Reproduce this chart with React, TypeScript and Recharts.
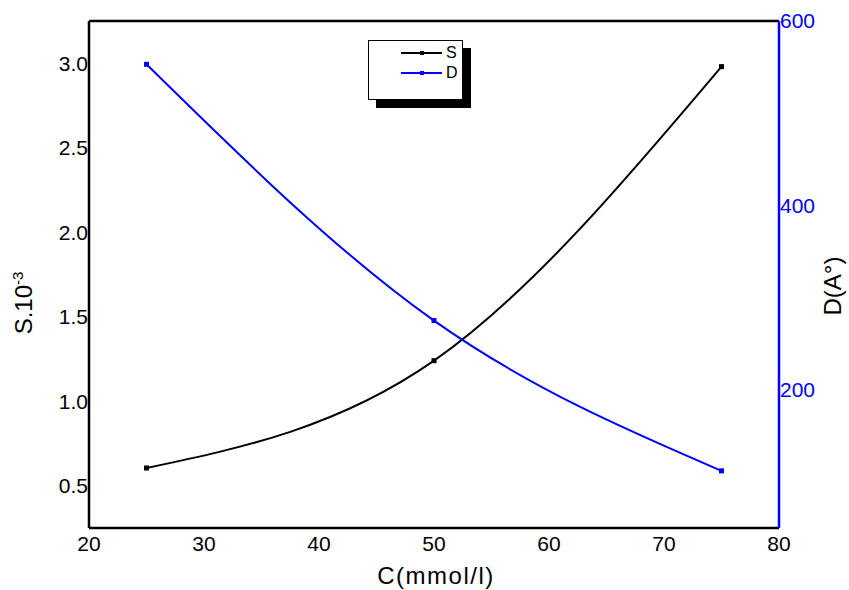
import React from 'react';
import { LineChart, Line, XAxis, YAxis } from 'recharts';

const concentrations = [25, 50, 75];
const sValues = [0.605, 1.24, 2.98];
const dValues = [553, 275, 112];
const xTicks = [20, 30, 40, 50, 60, 70, 80];
const sTicks = [0.5, 1.0, 1.5, 2.0, 2.5, 3.0];
const dTicks = [200, 400, 600];
const legendItems = [
  { name: 'S', color: '#000000' },
  { name: 'D', color: '#0000ff' },
];

const data = concentrations.map((c, i) => ({ c, s: sValues[i], d: dValues[i] }));

const FONT = 'Arial, "Liberation Sans", sans-serif';

const SquareDot = (color: string) => (props: any) => {
  const { cx, cy } = props;
  if (cx == null || cy == null) return null;
  return <rect x={cx - 2.5} y={cy - 2.5} width={5} height={5} fill={color} />;
};

const LegendBox = () => (
  <div
    style={{
      position: 'absolute',
      left: 368,
      top: 40,
      width: 95,
      height: 60,
      border: '1.5px solid #000',
      background: '#fff',
      boxShadow: '8px 8px 0 #000',
      boxSizing: 'border-box',
      fontFamily: FONT,
      fontSize: 16,
    }}
  >
    {legendItems.map((e, i) => (
      <div key={e.name} style={{ position: 'absolute', left: 0, top: 3 + i * 20, height: 18, width: 95 }}>
        <div style={{ position: 'absolute', left: 32, top: 8, width: 41, height: 2, background: e.color }} />
        <div style={{ position: 'absolute', left: 51, top: 7, width: 4, height: 4, background: e.color }} />
        <span style={{ position: 'absolute', left: 77, top: 0, lineHeight: '18px', color: '#000' }}>{e.name}</span>
      </div>
    ))}
  </div>
);

const LeftTitle = () => {
  const x = 32;
  const y = 303;
  return (
    <text
      x={x}
      y={y}
      transform={`rotate(-90 ${x} ${y})`}
      textAnchor="middle"
      fontFamily={FONT}
      fontSize={24}
      fill="#000"
    >
      <tspan>S.10</tspan>
      <tspan dy={-9} fontSize={15}>-3</tspan>
    </text>
  );
};

const RightTitle = () => {
  const x = 841;
  const y = 286;
  return (
    <text
      x={x}
      y={y}
      transform={`rotate(-90 ${x} ${y})`}
      textAnchor="middle"
      fontFamily={FONT}
      fontSize={24}
      fill="#000"
    >
      D(A°)
    </text>
  );
};

const BottomTitle = () => (
  <text x={436} y={584} textAnchor="middle" fontFamily={FONT} fontSize={24} letterSpacing={1.5} fill="#000">
    C(mmol/l)
  </text>
);

export default function App() {
  return (
    <div style={{ position: 'absolute', left: 0, top: 0, width: 849, height: 590, background: '#fff' }}>
      <LineChart
        width={849}
        height={590}
        data={data}
        margin={{ top: 20, right: 10, bottom: 12, left: 29 }}
      >
        <XAxis
          xAxisId="top"
          orientation="top"
          dataKey="c"
          type="number"
          domain={[20, 80]}
          ticks={xTicks}
          tick={false}
          tickLine={false}
          height={1}
          axisLine={{ stroke: '#000', strokeWidth: 2.5 }}
        />
        <XAxis
          dataKey="c"
          type="number"
          domain={[20, 80]}
          ticks={xTicks}
          tickLine={false}
          tickSize={0}
          tickMargin={2}
          height={50}
          axisLine={{ stroke: '#000', strokeWidth: 2.5 }}
          tick={{ fill: '#000', fontSize: 21, fontFamily: FONT, dy: 6 }}
          label={<BottomTitle />}
        />
        <YAxis
          yAxisId="s"
          orientation="left"
          type="number"
          domain={[0.25, 3.25]}
          ticks={sTicks}
          tickFormatter={(v: number) => v.toFixed(1)}
          tickLine={false}
          tickSize={0}
          tickMargin={1}
          width={60}
          axisLine={{ stroke: '#000', strokeWidth: 2.5 }}
          tick={{ fill: '#000', fontSize: 21, fontFamily: FONT }}
          label={<LeftTitle />}
        />
        <YAxis
          yAxisId="d"
          orientation="right"
          type="number"
          domain={[50, 600]}
          ticks={dTicks}
          tickLine={false}
          tickSize={0}
          tickMargin={1}
          width={60}
          axisLine={{ stroke: '#0000ff', strokeWidth: 2.5 }}
          tick={{ fill: '#0000ff', fontSize: 21, fontFamily: FONT }}
          label={<RightTitle />}
        />
        <Line
          yAxisId="s"
          type="natural"
          dataKey="s"
          name="S"
          stroke="#000"
          strokeWidth={2}
          dot={SquareDot('#000')}
          activeDot={false}
          isAnimationActive={false}
        />
        <Line
          yAxisId="d"
          type="natural"
          dataKey="d"
          name="D"
          stroke="#0000ff"
          strokeWidth={2}
          dot={SquareDot('#0000ff')}
          activeDot={false}
          isAnimationActive={false}
        />
      </LineChart>
      <LegendBox />
    </div>
  );
}
